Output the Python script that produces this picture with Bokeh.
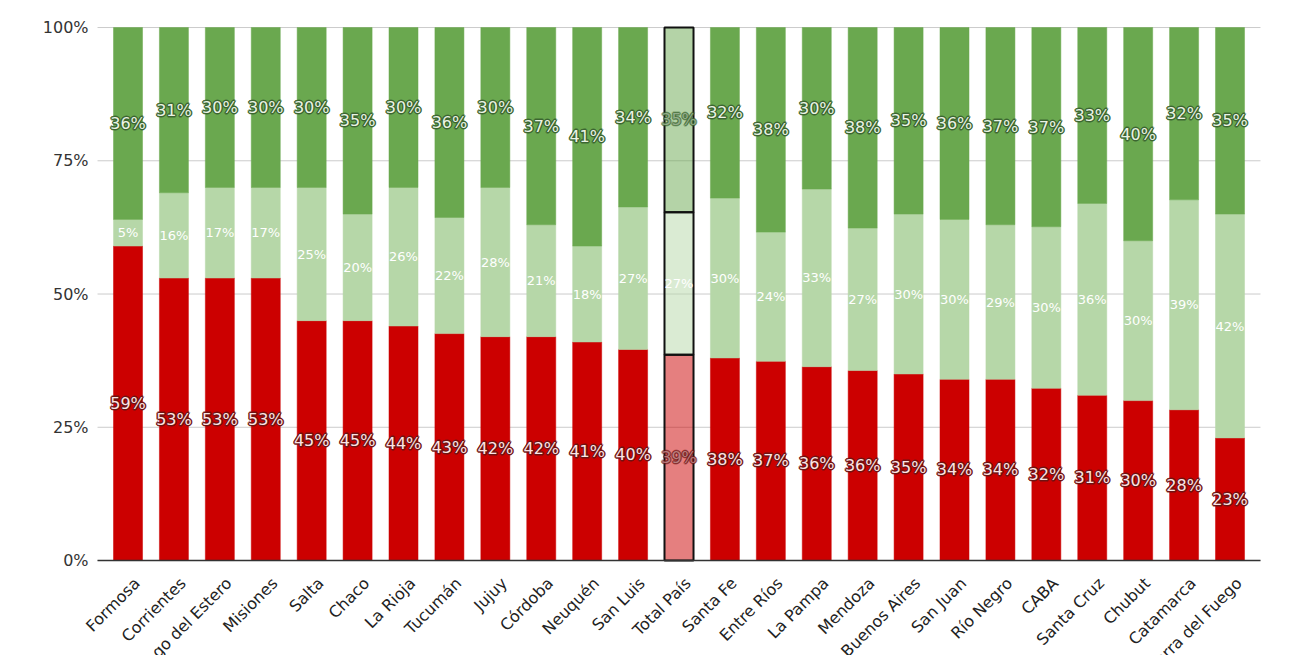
import math
from bokeh.plotting import figure
from bokeh.models import ColumnDataSource, Range1d
from bokeh.core.properties import value
from bokeh.embed import file_html
from bokeh.resources import INLINE

provinces = ["Formosa", "Corrientes", "Santiago del Estero", "Misiones", "Salta", "Chaco",
             "La Rioja", "Tucumán", "Jujuy", "Córdoba", "Neuquén", "San Luis", "Total País",
             "Santa Fe", "Entre Ríos", "La Pampa", "Mendoza", "Buenos Aires", "San Juan",
             "Río Negro", "CABA", "Santa Cruz", "Chubut", "Catamarca", "Tierra del Fuego"]
red_vals = [59, 53, 53, 53, 45, 45, 44, 43, 42, 42, 41, 40, 39, 38, 37, 36, 36, 35, 34, 34, 32, 31, 30, 28, 23]
light_vals = [5, 16, 17, 17, 25, 20, 26, 22, 28, 21, 18, 27, 27, 30, 24, 33, 27, 30, 30, 29, 30, 36, 30, 39, 42]
dark_vals = [36, 31, 30, 30, 30, 35, 30, 36, 30, 37, 41, 34, 35, 32, 38, 30, 38, 35, 36, 37, 37, 33, 40, 32, 35]
y_ticks = [0, 25, 50, 75, 100]
y_tick_labels = ["0%", "25%", "50%", "75%", "100%"]

RED, LIGHT, DARK = "#cc0000", "#b6d7a8", "#6aa84f"
FONT = "DejaVu Sans"
n = len(provinces)

# percent-stacked shares
r_s, l_s, d_s = [], [], []
for r, l, d in zip(red_vals, light_vals, dark_vals):
    t = r + l + d
    r_s.append(100 * r / t); l_s.append(100 * l / t); d_s.append(100 * d / t)

total = "Total País"
is_tot = [p == total for p in provinces]
alpha = [0.5 if t else 1.0 for t in is_tot]
lcol = ["#111111" if t else None for t in is_tot]
lw = [2 if t else 0 for t in is_tot]

idx = list(range(n))  # category slots, in the order of `provinces`
src = ColumnDataSource(dict(
    x=idx, name=provinces,
    r0=[0] * n, r1=r_s,
    l0=r_s, l1=[a + b for a, b in zip(r_s, l_s)],
    d0=[a + b for a, b in zip(r_s, l_s)], d1=[100] * n,
    rm=[a / 2 for a in r_s],
    lm=[a + b / 2 for a, b in zip(r_s, l_s)],
    dm=[a + b + c / 2 for a, b, c in zip(r_s, l_s, d_s)],
    rt=[f"{v}%" for v in red_vals], lt=[f"{v}%" for v in light_vals], dt=[f"{v}%" for v in dark_vals],
    alpha=alpha, halo_alpha=[a * 0.9 for a in alpha], lcol=lcol, lw=lw,
    y0=[0] * n,
))

# plot area spans the whole canvas; chart furniture is drawn inside it
p = figure(x_range=Range1d(-2.777, n - 1 + 1.361), y_range=Range1d(-17.82, 105.07),
           width=1292, height=655, output_backend="svg", toolbar_location=None,
           min_border=0)
p.outline_line_color = None
p.background_fill_color = "white"
p.axis.visible = False
p.grid.visible = False

pad = 0.164
x_lo, x_hi = -0.5 - pad, n - 0.5 + pad

# grid lines and y tick labels
grid = ColumnDataSource(dict(y=y_ticks, lab=y_tick_labels, x0=[x_lo] * len(y_ticks), x1=[x_hi] * len(y_ticks)))
p.segment(x0="x0", y0="y", x1="x1", y1="y", source=grid, line_color="#cccccc", line_width=1)
p.text(x="x0", y="y", text="lab", source=grid, text_align="right", text_baseline="middle",
       x_offset=-9, text_font=value(FONT), text_font_size="16px", text_color="#333333")

w = 0.632
for b, t, c in (("r0", "r1", RED), ("l0", "l1", LIGHT), ("d0", "d1", DARK)):
    p.vbar(x="x", bottom=b, top=t, width=w, source=src, fill_color=c, fill_alpha="alpha",
           line_color=c, line_alpha="alpha", line_width=0.5)
for b, t in (("r0", "r1"), ("l0", "l1"), ("d0", "d1")):
    p.vbar(x="x", bottom=b, top=t, width=w, source=src, fill_color=None,
           line_color="lcol", line_width="lw")

# x axis line
p.segment(x0=[x_lo], y0=[0], x1=[x_hi], y1=[0], line_color="#333333", line_width=1.5)

# data labels with halo: outlined copies underneath, plain fill on top
halo_offsets = [(-1, 0), (1, 0), (0, -1), (0, 1)]
for ycol, tcol, fill, halo in (("rm", "rt", "#fce4e4", "#6e1414"), ("dm", "dt", "#eaf3e4", "#3b6530")):
    for dx, dy in halo_offsets:
        p.text(x="x", y=ycol, text=tcol, source=src, text_align="center", text_baseline="middle",
               x_offset=dx, y_offset=dy,
               text_font=value(FONT), text_font_size="16px", text_color=halo,
               text_outline_color=halo, text_alpha="halo_alpha")
    p.text(x="x", y=ycol, text=tcol, source=src, text_align="center", text_baseline="middle",
           text_font=value(FONT), text_font_size="16px", text_color=fill, text_alpha="alpha")
p.text(x="x", y="lm", text="lt", source=src, text_align="center", text_baseline="middle",
       text_font=value(FONT), text_font_size="13px", text_color="#ffffff")

# rotated category names
p.text(x="x", y="y0", text="name", source=src, angle=math.pi / 4,
       text_align="right", text_baseline="middle", x_offset=9, y_offset=20,
       text_font=value(FONT), text_font_size="16px", text_color="#222222")

open("out.html", "w").write(file_html(p, INLINE))
